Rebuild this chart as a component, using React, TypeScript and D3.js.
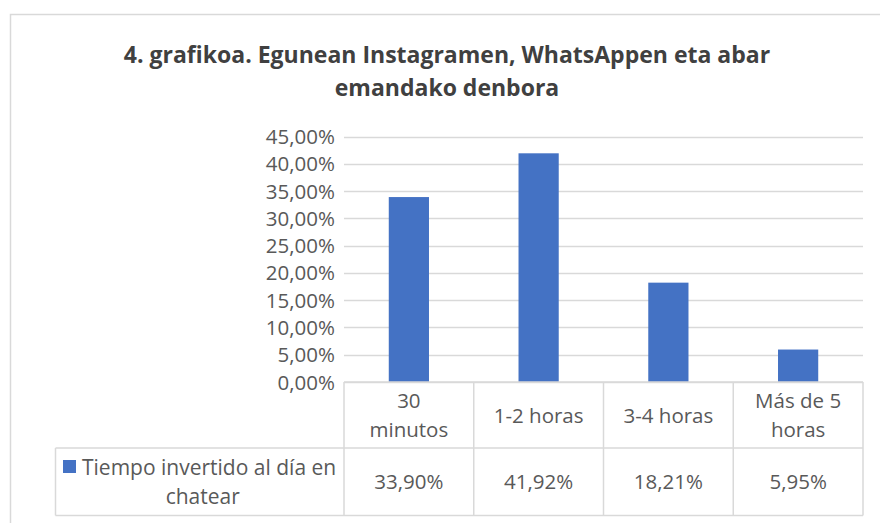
import React from "react";
import * as d3 from "d3";

const titleLines = ["4. grafikoa. Egunean Instagramen, WhatsAppen eta abar", "emandako denbora"];
const categories = ["30 minutos", "1-2 horas", "3-4 horas", "Más de 5 horas"];
const categoryLines = [["30", "minutos"], ["1-2 horas"], ["3-4 horas"], ["Más de 5", "horas"]];
const seriesName = ["Tiempo invertido al día en", "chatear"];
const values = [0.339, 0.4192, 0.1821, 0.0595];
const valueLabels = ["33,90%", "41,92%", "18,21%", "5,95%"];
const yTicks = [0, 0.05, 0.1, 0.15, 0.2, 0.25, 0.3, 0.35, 0.4, 0.45];

const W = 880;
const H = 523;
const FONT = "'Open Sans', sans-serif";
const FS = 20.5;

export default function App() {
  const plotLeft = 344;
  const plotRight = 863;
  const plotTop = 136.5;
  const plotBottom = 382;
  const headerBottom = 448;
  const tableBottom = 515.5;
  const legendLeft = 55.5;

  const y = d3.scaleLinear().domain([0, 0.45]).range([plotBottom, plotTop]);
  const x = d3.scaleBand<string>().domain(categories).range([plotLeft, plotRight]).padding(0);
  const step = x.step();
  const barW = step * 0.31;
  const fmt = (v: number) => d3.format(".2f")(v * 100).replace(".", ",") + "%";

  const gridColor = "#d9d9d9";
  const textColor = "#595959";

  return (
    <svg width={W} height={H} style={{ position: "absolute", left: 0, top: 0, background: "#fff" }}>
      <rect x={10.5} y={14.5} width={W} height={H} fill="#fff" stroke="#d9d9d9" strokeWidth={1.5} />
      {titleLines.map((t, i) => (
        <text key={i} x={447} y={63 + i * 33} textAnchor="middle" fontFamily={FONT} fontWeight={700} fontSize={23} fill="#404040">
          {t}
        </text>
      ))}
      {yTicks.map((t) => (
        <g key={t}>
          <line x1={plotLeft} x2={plotRight} y1={Math.round(y(t)) + 0.5} y2={Math.round(y(t)) + 0.5} stroke={gridColor} strokeWidth={1.5} />
          <text x={335} y={y(t) + 7.5} textAnchor="end" fontFamily={FONT} fontSize={FS} fill={textColor}>
            {fmt(t)}
          </text>
        </g>
      ))}
      {categories.map((c, i) => (
        <rect key={c} x={(x(c) as number) + step / 2 - barW / 2} y={y(values[i])} width={barW} height={plotBottom - y(values[i])} fill="#4472C4" />
      ))}
      <g stroke={gridColor} strokeWidth={1.5} fill="none">
        <line x1={plotLeft} x2={plotRight} y1={plotBottom} y2={plotBottom} />
        <line x1={legendLeft} x2={plotRight} y1={headerBottom} y2={headerBottom} />
        <line x1={legendLeft} x2={plotRight} y1={tableBottom} y2={tableBottom} />
        <line x1={legendLeft} x2={legendLeft} y1={headerBottom} y2={tableBottom} />
        {categories.map((c) => (
          <line key={c} x1={x(c)} x2={x(c)} y1={plotBottom} y2={tableBottom} />
        ))}
        <line x1={plotRight} x2={plotRight} y1={plotBottom} y2={tableBottom} />
      </g>
      {categories.map((c, i) => {
        const lines = categoryLines[i];
        const cx = (x(c) as number) + step / 2;
        const mid = (plotBottom + headerBottom) / 2;
        return (
          <g key={c}>
            {lines.map((l, j) => (
              <text key={j} x={cx} y={mid + 7.5 + (j - (lines.length - 1) / 2) * 29} textAnchor="middle" fontFamily={FONT} fontSize={FS} fill={textColor}>
                {l}
              </text>
            ))}
            <text x={cx} y={(headerBottom + tableBottom) / 2 + 7.5} textAnchor="middle" fontFamily={FONT} fontSize={FS} fill={textColor}>
              {valueLabels[i]}
            </text>
          </g>
        );
      })}
      <rect x={63} y={460} width={13} height={13} fill="#4472C4" />
      <text x={82} y={474.5} fontFamily={FONT} fontSize={21} fill={textColor}>
        {seriesName[0]}
      </text>
      <text x={(legendLeft + plotLeft) / 2 + 3} y={503.5} textAnchor="middle" fontFamily={FONT} fontSize={21} fill={textColor}>
        {seriesName[1]}
      </text>
    </svg>
  );
}
